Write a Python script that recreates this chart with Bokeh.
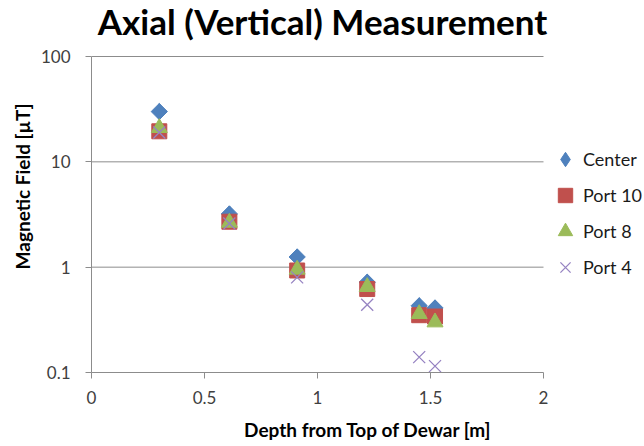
import math

from bokeh.embed import file_html
from bokeh.models import (ColumnDataSource, FixedTicker, Label, Legend,
                          LegendItem, Range1d)
from bokeh.plotting import figure
from bokeh.resources import INLINE

# Field measurements along the dewar axis
depth_m = [0.30, 0.61, 0.91, 1.22, 1.45, 1.52]
center_uT = [30.0, 3.2, 1.25, 0.72, 0.43, 0.41]
port10_uT = [19.5, 2.7, 0.93, 0.62, 0.35, 0.34]
port8_uT = [21.0, 2.65, 0.95, 0.65, 0.36, 0.30]
port4_uT = [19.0, 2.6, 0.80, 0.44, 0.14, 0.115]

x_ticks = [0, 0.5, 1, 1.5, 2]
x_tick_labels = ["0", "0.5", "1", "1.5", "2"]
y_ticks = [0.1, 1, 10, 100]
y_tick_labels = ["0.1", "1", "10", "100"]

BLUE = "#4F81BD"
RED = "#C0504D"
GREEN = "#9BBB59"
PURPLE = "#9683C2"
AXIS_GRAY = "#8C8C8C"
LABEL_GRAY = "#404040"
FONT = "Lato"

W, H = 644, 446
LEFT, BOTTOM = 91, 74
AXIS_W = 452   # pixel length of the 0..2 x axis
AXIS_H = 316   # pixel length of the 0.1..100 y axis
# The frame fills the whole canvas to the right and top, so that the legend
# and the title can sit inside it; the axes are bounded to their data spans.
x_end = x_ticks[-1] * (W - LEFT) / AXIS_W
decades = math.log10(y_ticks[-1] / y_ticks[0])
y_end = y_ticks[0] * 10 ** (decades * (H - BOTTOM) / AXIS_H)

src = ColumnDataSource(dict(x=depth_m, center=center_uT, port10=port10_uT,
                            port8=port8_uT, port4=port4_uT))

p = figure(width=W, height=H, output_backend="svg", toolbar_location=None,
           y_axis_type="log", x_range=Range1d(0, x_end),
           y_range=Range1d(y_ticks[0], y_end),
           min_border_left=LEFT, min_border_right=0, min_border_top=0,
           min_border_bottom=BOTTOM, outline_line_color=None)

# Horizontal gridlines, limited to the 0..2 span of the x axis
n_grid = len(y_ticks) - 1
p.segment(x0=[x_ticks[0]] * n_grid, y0=y_ticks[1:], x1=[x_ticks[-1]] * n_grid,
          y1=y_ticks[1:], line_color=AXIS_GRAY, line_width=1)

# Markers: diamond (narrow) kept beneath a rotated square for the legend entry
center_leg = p.scatter("x", "center", source=src, marker="diamond", size=16,
                       fill_color=BLUE, line_color=BLUE)
p.scatter("x", "center", source=src, marker="square", size=11.5,
          angle=math.pi / 4, fill_color=BLUE, line_color=BLUE)
r10 = p.scatter("x", "port10", source=src, marker="square", size=15,
                fill_color=RED, line_color=RED)
r8 = p.scatter("x", "port8", source=src, marker="triangle", size=16,
               fill_color=GREEN, line_color=GREEN)
r4 = p.scatter("x", "port4", source=src, marker="x", size=17,
               line_color=PURPLE, line_width=1.3)

# Axes
xa = p.xaxis[0]
xa.ticker = FixedTicker(ticks=x_ticks, minor_ticks=[])
xa.major_label_overrides = {t: s for t, s in zip(x_ticks, x_tick_labels)}
xa.axis_label = "Depth from Top of Dewar [m]"
xa.bounds = (x_ticks[0], x_ticks[-1])

ya = p.yaxis[0]
ya.ticker = FixedTicker(ticks=y_ticks, minor_ticks=[])
ya.major_label_overrides = {t: s for t, s in zip(y_ticks, y_tick_labels)}
ya.axis_label = "Magnetic Field [\u00b5T]"
ya.bounds = (y_ticks[0], y_ticks[-1])

for ax in (xa, ya):
    ax.axis_line_color = AXIS_GRAY
    ax.major_tick_line_color = AXIS_GRAY
    ax.major_tick_in = 0
    ax.minor_tick_line_color = None
    ax.major_label_text_font = FONT
    ax.major_label_text_font_size = "17px"
    ax.major_label_text_color = LABEL_GRAY
    ax.axis_label_text_font = FONT
    ax.axis_label_text_font_size = "19px"
    ax.axis_label_text_font_style = "bold"
    ax.axis_label_text_color = "#000000"

xa.major_tick_out = 6
xa.major_label_standoff = 12
xa.axis_label_standoff = 11
ya.major_tick_out = 6
ya.major_label_standoff = 15
ya.axis_label_standoff = 4

p.xgrid.grid_line_color = None
p.ygrid.grid_line_color = None

# Chart title, placed in screen units above the plotting area
p.add_layout(Label(x=231, y=H - BOTTOM - 20, x_units="screen", y_units="screen",
                   text="Axial (Vertical) Measurement", text_font=FONT,
                   text_font_size="35px", text_font_style="bold",
                   text_color="#000000", text_align="center",
                   text_baseline="alphabetic"))

legend = Legend(items=[
    LegendItem(label="Center", renderers=[center_leg]),
    LegendItem(label="Port 10", renderers=[r10]),
    LegendItem(label="Port 8", renderers=[r8]),
    LegendItem(label="Port 4", renderers=[r4]),
], location=(456, 87), orientation="vertical", glyph_width=36,
    glyph_height=36, label_height=36, spacing=0, padding=0, margin=0,
    label_standoff=-9, border_line_color=None, background_fill_alpha=0,
    label_text_font=FONT, label_text_font_size="18px",
    label_text_color="#1a1a1a")
p.add_layout(legend, "center")

open("out.html", "w").write(file_html(p, INLINE))
